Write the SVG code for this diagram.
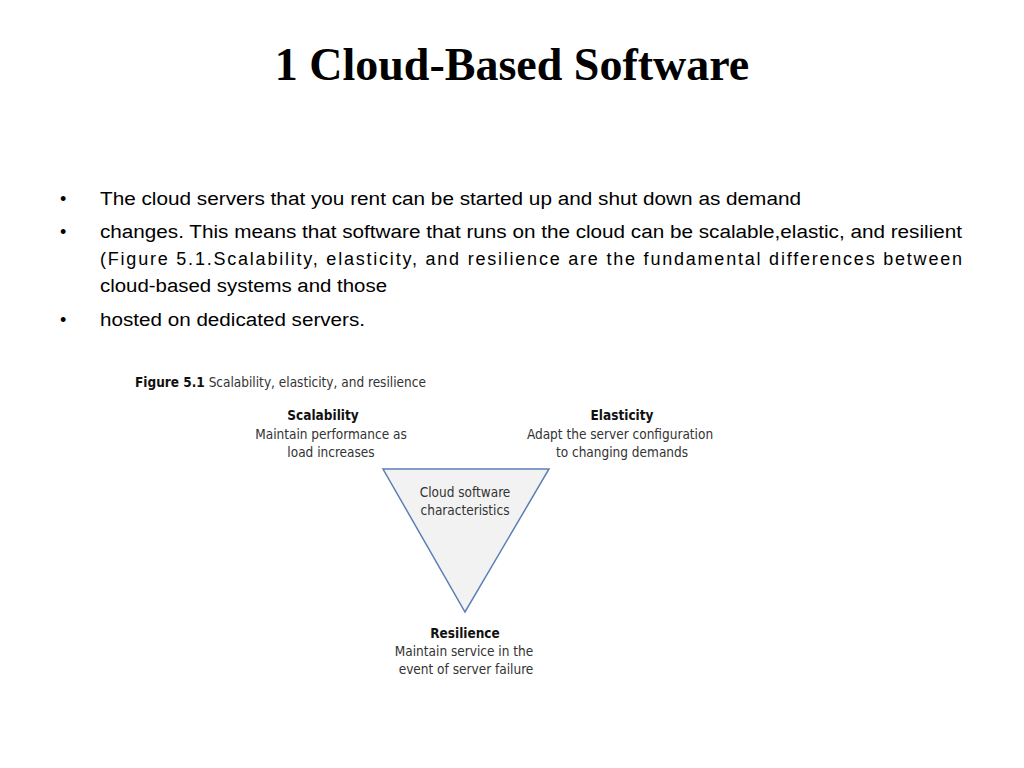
<svg xmlns="http://www.w3.org/2000/svg" width="1024" height="768" viewBox="0 0 1024 768">
<style>
.t{font-family:"Liberation Serif",serif;font-weight:bold;font-size:46px;fill:#000}
.b{font-family:"Liberation Sans",Arial,sans-serif;font-size:18px;fill:#000}
.f{font-family:"DejaVu Sans Condensed","Liberation Sans",sans-serif;font-size:13.5px;fill:#333}
.fb{font-weight:bold;fill:#111}
</style>
<rect width="1024" height="768" fill="#fff"/>
<text class="t" x="512" y="80" text-anchor="middle">1 Cloud-Based Software</text>
<g id="bullets">
<text class="b" x="60" y="205">•</text>
<text class="b" x="100" y="205" textLength="701" lengthAdjust="spacingAndGlyphs">The cloud servers that you rent can be started up and shut down as demand</text>
<text class="b" x="60" y="238">•</text>
<text class="b" x="100" y="238" textLength="862" lengthAdjust="spacingAndGlyphs">changes. This means that software that runs on the cloud can be scalable,elastic, and resilient</text>
<text class="b" x="100" y="265" textLength="862" lengthAdjust="spacing">(Figure 5.1.Scalability, elasticity, and resilience are the fundamental differences between</text>
<text class="b" x="100" y="292" textLength="287" lengthAdjust="spacingAndGlyphs">cloud-based systems and those</text>
<text class="b" x="60" y="326">•</text>
<text class="b" x="100" y="326" textLength="265" lengthAdjust="spacingAndGlyphs">hosted on dedicated servers.</text>
</g>
<g id="figure">
<text class="f" x="135" y="387"><tspan class="fb">Figure 5.1</tspan>  Scalability, elasticity, and resilience</text>
<g id="triangle"><polygon points="383,469 549,469 465,612" fill="#f2f2f2" stroke="#5b7fb5" stroke-width="1.5"/>
<text class="f" x="465" y="497" text-anchor="middle">Cloud software</text>
<text class="f" x="465" y="515" text-anchor="middle">characteristics</text></g>
<g id="scalability"><text class="f fb" x="323" y="420" text-anchor="middle">Scalability</text>
<text class="f" x="331" y="439" text-anchor="middle">Maintain performance as</text>
<text class="f" x="331" y="457" text-anchor="middle">load increases</text></g>
<g id="elasticity"><text class="f fb" x="622" y="420" text-anchor="middle">Elasticity</text>
<text class="f" x="620" y="439" text-anchor="middle">Adapt the server configuration</text>
<text class="f" x="622" y="457" text-anchor="middle">to changing demands</text></g>
<g id="resilience"><text class="f fb" x="465" y="638" text-anchor="middle">Resilience</text>
<text class="f" x="464" y="656" text-anchor="middle">Maintain service in the</text>
<text class="f" x="466" y="674" text-anchor="middle">event of server failure</text></g>
</g>
<g id="connectors"/>
</svg>
